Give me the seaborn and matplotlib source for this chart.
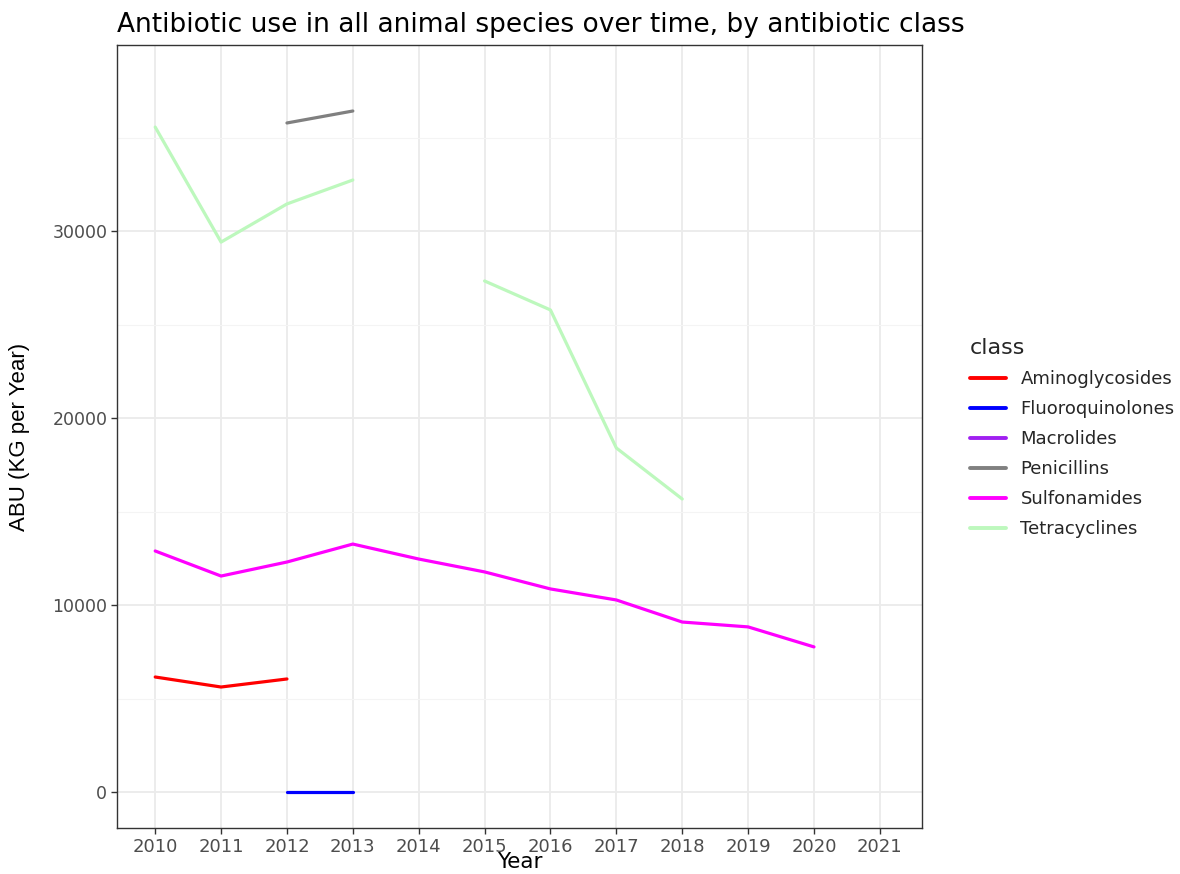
import numpy as np
import pandas as pd
import matplotlib
matplotlib.use("Agg")
import matplotlib.pyplot as plt
from matplotlib.lines import Line2D
import seaborn as sns

classes = ["Aminoglycosides", "Fluoroquinolones", "Macrolides",
           "Penicillins", "Sulfonamides", "Tetracyclines"]
colors = ["#FF0000", "#0000FF", "#A020F0", "#808080", "#FF00FF", "#BDF8BD"]

amino_years = [2010, 2011, 2012]
amino_vals = [6150, 5615, 6045]
fluoro_years = [2012, 2013]
fluoro_vals = [0, 0]
penic_years = [2012, 2013]
penic_vals = [35780, 36420]
sulfa_years = [2010, 2011, 2012, 2013, 2014, 2015, 2016, 2017, 2018, 2019, 2020]
sulfa_vals = [12890, 11550, 12300, 13260, 12460, 11770, 10860, 10270, 9090, 8830, 7760]
tetra_years_a = [2010, 2011, 2012, 2013]
tetra_vals_a = [35560, 29410, 31450, 32730]
tetra_years_b = [2015, 2016, 2017, 2018]
tetra_vals_b = [27330, 25780, 18400, 15670]
year_ticks = list(range(2010, 2022))

rows = []
def add(cls, seg, years, vals):
    for y, v in zip(years, vals):
        rows.append({"Year": y, "ABU": v, "class": cls, "seg": f"{cls}_{seg}"})
add("Aminoglycosides", 0, amino_years, amino_vals)
add("Fluoroquinolones", 0, fluoro_years, fluoro_vals)
add("Penicillins", 0, penic_years, penic_vals)
add("Sulfonamides", 0, sulfa_years, sulfa_vals)
add("Tetracyclines", 0, tetra_years_a, tetra_vals_a)
add("Tetracyclines", 1, tetra_years_b, tetra_vals_b)
df = pd.DataFrame(rows)

sns.set_theme(style="white")
plt.rcParams['font.family'] = ['DejaVu Sans']

fig = plt.figure(figsize=(11.8, 8.74), dpi=100)
ax = fig.add_axes([117/1180, 1-828/874, (922-117)/1180, (828-45)/874])

palette = dict(zip(classes, colors))
sns.lineplot(data=df, x="Year", y="ABU", hue="class", units="seg",
             estimator=None, palette=palette, linewidth=2.3, legend=False,
             ax=ax, sort=True)

ax.set_xlim(2009.42, 2021.64)
ax.set_ylim(-1925, 39950)
ax.set_xticks(year_ticks)
ax.set_xticklabels([str(y) for y in year_ticks])
ax.set_yticks([0, 10000, 20000, 30000])
ax.set_yticks([5000, 15000, 25000, 35000], minor=True)
ax.grid(True, which="major", color="#EBEBEB", linewidth=1.3)
ax.grid(True, which="minor", axis="y", color="#F4F4F4", linewidth=0.8)
ax.set_axisbelow(True)
for s in ax.spines.values():
    s.set_color("#333333")
    s.set_linewidth(1.0)
ax.tick_params(axis="both", which="major", length=4, width=1, color="#333333",
               labelcolor="#4D4D4D", labelsize=13, pad=3,
               bottom=True, left=True)
ax.tick_params(axis="y", which="major", labelsize=12.5)
ax.tick_params(axis="y", which="minor", length=0)

ax.set_xlabel("Year", fontsize=15.5, color="black")
ax.xaxis.set_label_coords(0.5, -(862 - 828) / 783)
ax.xaxis.label.set_va("center")
ax.set_ylabel("ABU (KG per Year)", fontsize=16, color="black",
              family=['Liberation Sans', 'DejaVu Sans'])
ax.yaxis.set_label_coords((20 - 117) / 805, 0.5)
ax.yaxis.label.set_va("center")

fig.text(117/1180, 1-25/874, "Antibiotic use in all animal species over time, by antibiotic class",
         fontsize=19, ha="left", va="center", color="black")

handles = [Line2D([0], [0], color=c, lw=2.8) for c in colors]
leg = fig.legend(handles, classes, title="class", loc="upper left",
                 bbox_to_anchor=(950/1180, 1-318/874), frameon=False,
                 fontsize=13, title_fontsize=16, handlelength=2.0,
                 handletextpad=0.8, labelspacing=0.67, alignment="left",
                 borderpad=0.6)

fig.savefig("out.png", dpi=100)
